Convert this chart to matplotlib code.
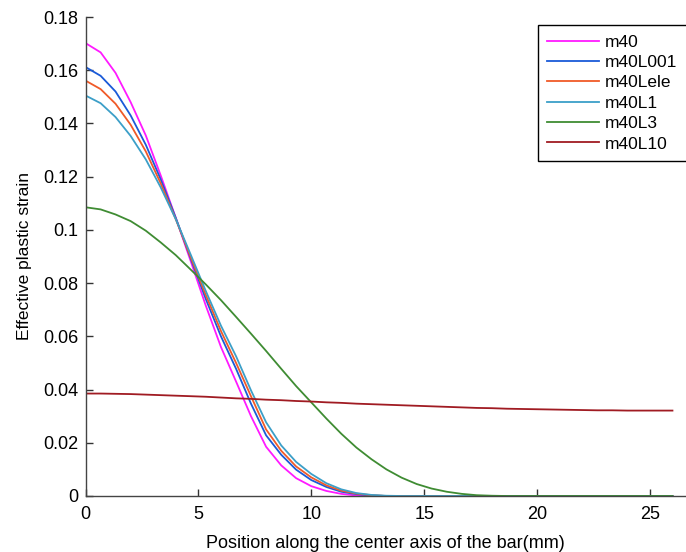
import numpy as np
import matplotlib
matplotlib.use('Agg')
import matplotlib.pyplot as plt
from matplotlib.ticker import FuncFormatter

# position along the bar (mm), sampled every ~0.667 mm
pos = [0.0, 0.67, 1.33, 2.0, 2.67, 3.33, 4.0, 4.67, 5.33, 6.0,
       6.67, 7.33, 8.0, 8.67, 9.33, 10.0, 10.67, 11.33, 12.0, 12.67,
       13.33, 14.0, 14.67, 15.33, 16.0, 16.67, 17.33, 18.0, 18.67, 19.33,
       20.0, 20.67, 21.33, 22.0, 22.67, 23.33, 24.0, 24.67, 25.33, 26.0]

m40 = [0.1702, 0.1667, 0.1590, 0.1480, 0.1355, 0.1205, 0.1045, 0.0880, 0.0715, 0.0560,
       0.0430, 0.0300, 0.0185, 0.0115, 0.0067, 0.0037, 0.0019, 0.0008, 0.0002, 0.0,
       0.0, 0.0, 0.0, 0.0, 0.0, 0.0, 0.0, 0.0, 0.0, 0.0,
       0.0, 0.0, 0.0, 0.0, 0.0, 0.0, 0.0, 0.0, 0.0, 0.0]
m40L001 = [0.1612, 0.1579, 0.1520, 0.1430, 0.1320, 0.1190, 0.1045, 0.0890, 0.0740, 0.0600,
           0.0478, 0.0347, 0.0228, 0.0155, 0.0099, 0.0060, 0.0034, 0.0016, 0.0007, 0.0002,
           0.0, 0.0, 0.0, 0.0, 0.0, 0.0, 0.0, 0.0, 0.0, 0.0,
           0.0, 0.0, 0.0, 0.0, 0.0, 0.0, 0.0, 0.0, 0.0, 0.0]
m40Lele = [0.1561, 0.1529, 0.1474, 0.1395, 0.1295, 0.1175, 0.1040, 0.0895, 0.0755, 0.0620,
           0.0500, 0.0375, 0.0250, 0.0170, 0.0111, 0.0070, 0.0040, 0.0020, 0.0009, 0.0003,
           0.0, 0.0, 0.0, 0.0, 0.0, 0.0, 0.0, 0.0, 0.0, 0.0,
           0.0, 0.0, 0.0, 0.0, 0.0, 0.0, 0.0, 0.0, 0.0, 0.0]
m40L1 = [0.1505, 0.1476, 0.1424, 0.1353, 0.1265, 0.1160, 0.1040, 0.0905, 0.0770, 0.0640,
         0.0525, 0.0397, 0.0277, 0.0190, 0.0128, 0.0083, 0.0048, 0.0025, 0.0011, 0.0004,
         0.0001, 0.0, 0.0, 0.0, 0.0, 0.0, 0.0, 0.0, 0.0, 0.0,
         0.0, 0.0, 0.0, 0.0, 0.0, 0.0, 0.0, 0.0, 0.0, 0.0]
m40L3 = [0.1085, 0.1077, 0.1058, 0.1033, 0.0997, 0.0953, 0.0905, 0.0850, 0.0795, 0.0736,
         0.0673, 0.0610, 0.0545, 0.0478, 0.0413, 0.0352, 0.0291, 0.0234, 0.0182, 0.0138,
         0.0100, 0.0069, 0.0045, 0.0028, 0.0016, 0.0008, 0.0003, 0.0001, 0.0, 0.0,
         0.0, 0.0, 0.0, 0.0, 0.0, 0.0, 0.0, 0.0, 0.0, 0.0]
m40L10 = [0.0385, 0.0385, 0.0384, 0.0383, 0.0381, 0.0379, 0.0377, 0.0375, 0.0373, 0.0370,
          0.0367, 0.0365, 0.0362, 0.0360, 0.0357, 0.0355, 0.0352, 0.0350, 0.0347, 0.0345,
          0.0343, 0.0341, 0.0339, 0.0337, 0.0335, 0.0333, 0.0331, 0.0330, 0.0328, 0.0327,
          0.0326, 0.0325, 0.0324, 0.0323, 0.0322, 0.0322, 0.0321, 0.0321, 0.0321, 0.0321]

names = ['m40', 'm40L001', 'm40Lele', 'm40L1', 'm40L3', 'm40L10']
series = [m40, m40L001, m40Lele, m40L1, m40L3, m40L10]
colors = ['#ff1aff', '#1a5ad8', '#f05a28', '#3c9fc8', '#3f8c33', '#a01b22']

plt.rcParams['font.family'] = ['Liberation Sans', 'DejaVu Sans']
plt.rcParams['font.size'] = 13

fig = plt.figure(figsize=(6.86, 5.52), dpi=100)
ax = fig.add_axes([85.5/686, 56/552, 600.5/686, 479/552])

for name, ys, c in zip(names, series, colors):
    ax.plot(pos, ys, color=c, lw=1.3, label=name)

ax.set_xlim(0, 26.6)
ax.set_ylim(0, 0.18)
ax.set_xticks([0, 5, 10, 15, 20, 25])
ax.set_yticks(np.arange(0, 0.181, 0.02))
ax.yaxis.set_major_formatter(FuncFormatter(lambda v, p: '%g' % round(v, 4)))

for s in ['top', 'right']:
    ax.spines[s].set_visible(False)
for s in ['left', 'bottom']:
    ax.spines[s].set_color('#444444')
    ax.spines[s].set_linewidth(1.0)
ax.tick_params(direction='in', length=5, width=1.0, color='#333333', labelsize=13, pad=5)
ax.tick_params(axis='x', pad=7)

ax.set_xlabel('Position along the center axis of the bar(mm)', fontsize=13, labelpad=9)
ax.set_ylabel('Effective plastic strain', fontsize=12.5, labelpad=8)

leg = ax.legend(loc='upper right', bbox_to_anchor=(1.002, 1 - 8/479), borderaxespad=0,
                fancybox=False, edgecolor='black', framealpha=1, handlelength=3.0,
                handletextpad=0.35, labelspacing=0.3, borderpad=0.55, fontsize=12.5)
leg.get_frame().set_linewidth(1.0)

fig.savefig('out.png', dpi=100)
